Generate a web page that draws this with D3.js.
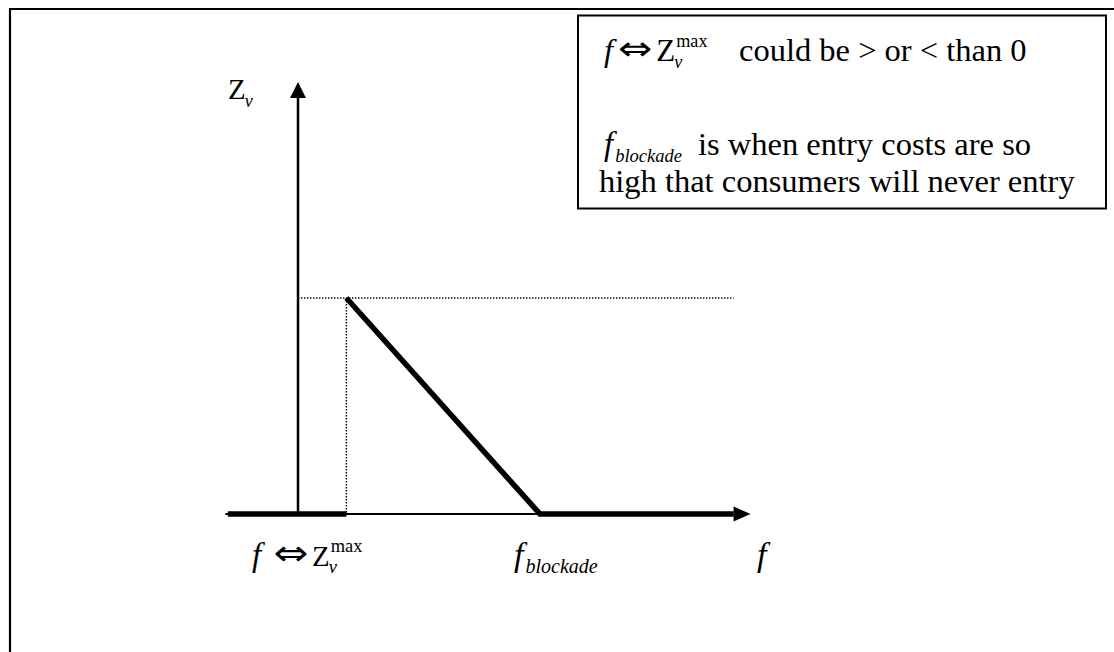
<!DOCTYPE html>
<html><head><meta charset="utf-8">
<script src="https://cdn.jsdelivr.net/npm/d3@7"></script>
<style>
body{margin:0;background:#fff}
svg{display:block}
</style>
</head><body>
<svg id="c" width="1114" height="652"></svg>
<script>
// ---- data (in chart units) ----
const fDomain = [0, 10];
const zDomain = [0, 2];
const fAxisRange = [-1.5, 9.0];
const fArrowTip = 9.35;
const zAxisTop = 1.96;
const zArrowTip = 2;
const fZmax = 1;
const zMaxValue = 1;
const fBlockade = 5;
const lowerBranch = [[-1.45, 0], [1, 0]];
const upperBranch = [[1, 1], [5, 0], [9, 0]];
const dottedH = [[0, 1], [9, 1]];
const dottedV = [[1, 1], [1, 0]];
const legendText = ["could be > or < than 0", "is when entry costs are so", "high that consumers will never entry"];
const axisLabels = {y: ["Z", "v"], x: "f", blockade: ["f", "blockade"]};

const SERIF = '"Liberation Serif"';
const svg = d3.select("#c");
const x = d3.scaleLinear().domain(fDomain).range([298, 782]);
const y = d3.scaleLinear().domain(zDomain).range([514, 82]);
const line = d3.line().x(d => x(d[0])).y(d => y(d[1]));

// outer frame
svg.append("path").attr("d", "M10,652 V9 H1114").attr("fill", "none")
  .attr("stroke", "#000").attr("stroke-width", 2.2);

// dotted guides
[dottedH, dottedV].forEach(p => svg.append("path").attr("d", line(p))
  .attr("fill", "none").attr("stroke", "#000").attr("stroke-width", 1.4)
  .attr("stroke-dasharray", "1.4,1.6"));

// axes
svg.append("line").attr("x1", x(fAxisRange[0])).attr("x2", x(fAxisRange[1]))
  .attr("y1", y(0)).attr("y2", y(0)).attr("stroke", "#000").attr("stroke-width", 2);
svg.append("line").attr("x1", x(0)).attr("x2", x(0))
  .attr("y1", y(0)).attr("y2", y(zAxisTop)).attr("stroke", "#000").attr("stroke-width", 2.5);
const xt = x(fArrowTip), yt = y(zArrowTip);
svg.append("path").attr("d", `M${xt},${y(0)} L${xt-17},${y(0)-7.5} L${xt-17},${y(0)+7.5} Z`).attr("fill", "#000");
svg.append("path").attr("d", `M${x(0)},${yt} L${x(0)-8},${yt+16} L${x(0)+8},${yt+16} Z`).attr("fill", "#000");

// thick branches
[lowerBranch, upperBranch].forEach(p => svg.append("path").attr("d", line(p))
  .attr("fill", "none").attr("stroke", "#000").attr("stroke-width", 5.5)
  .attr("stroke-linejoin", "miter"));

// ---- text helpers ----
function put(t, px, py, size, italic, family, sx) {
  const el = svg.append("text").attr("x", 0).attr("y", 0)
    .attr("transform", `translate(${px},${py}) scale(${sx || 1},1)`)
    .style("font-family", family || SERIF)
    .style("font-size", size + "px")
    .style("font-style", italic ? "italic" : "normal")
    .style("fill", "#000").text(t);
  return el.node().getComputedTextLength() * (sx || 1);
}
function eqZ(px, py, size, zSize, gap1) {
  let cx = px;
  cx += put("f", cx, py, size, true) + gap1;
  cx += put("\u21D4", cx, py - 1, size * 1.05, false, '"DejaVu Sans"', 1.2) + size * 0.12;
  cx += put("Z", cx, py, zSize, false);
  const w1 = put("max", cx + 1, py - size * 0.42, size * 0.56, false);
  put("v", cx - 1, py + size * 0.22, size * 0.56, true);
  return cx + 1 + w1;
}

// legend box
svg.append("rect").attr("x", 578).attr("y", 15.5).attr("width", 528).attr("height", 193)
  .attr("fill", "#fff").attr("stroke", "#000").attr("stroke-width", 2);
eqZ(604, 61, 32.5, 31, 5);
put(legendText[0], 739, 61, 32.5, false);
const fw = put(axisLabels.blockade[0], 604, 155, 33, true);
put(axisLabels.blockade[1], 604 + fw + 2, 162, 18.5, true);
put(legendText[1], 698, 155, 32.5, false);
put(legendText[2], 599, 192, 32.5, false);

// axis labels
const zw = put(axisLabels.y[0], 228, 99, 29, false);
put(axisLabels.y[1], 228 + zw - 1, 107, 18, true);
eqZ(252, 566, 33, 29, 12);
const bw = put(axisLabels.blockade[0], x(fBlockade) - 26, 566, 34, true);
put(axisLabels.blockade[1], x(fBlockade) - 26 + bw + 2, 573, 20, true);
put(axisLabels.x, 757, 566, 34, true);
</script>
</body></html>
